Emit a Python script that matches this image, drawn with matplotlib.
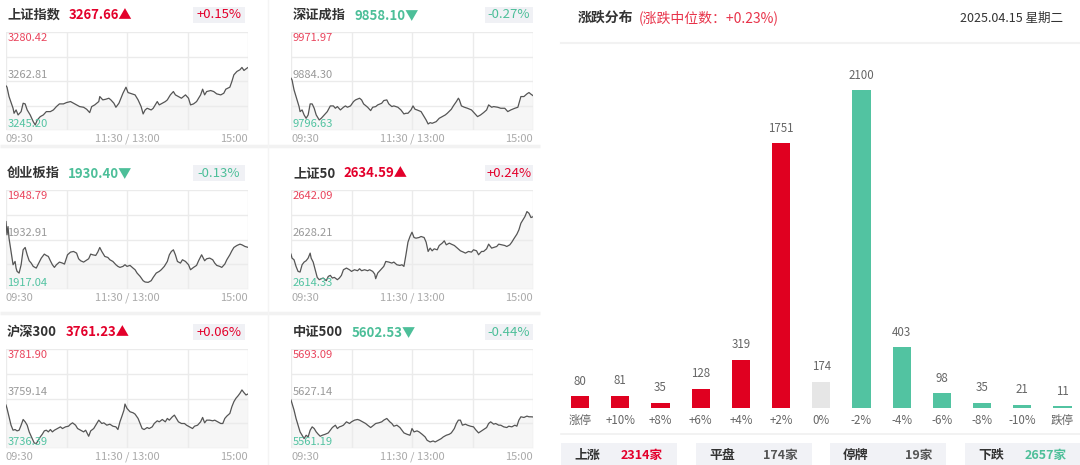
import numpy as np
import matplotlib
matplotlib.use('Agg')
import matplotlib.pyplot as plt
from matplotlib.patches import Rectangle

plt.rcParams['font.family'] = ['Noto Sans CJK SC', 'DejaVu Sans']

RED = '#e3002b'
GREEN = '#4dbf99'
DARK = '#333333'
GRAY = '#999999'

# ---- index panels ----
names = ['上证指数', '深证成指', '创业板指', '上证50', '沪深300', '中证500']
last = ['3267.66', '9858.10', '1930.40', '2634.59', '3761.23', '5602.53']
pct = ['+0.15%', '-0.27%', '-0.13%', '+0.24%', '+0.06%', '-0.44%']
hi = [3280.42, 9971.97, 1948.79, 2642.09, 3781.90, 5693.09]
mid = [3262.81, 9884.30, 1932.91, 2628.21, 3759.14, 5627.14]
lo = [3245.20, 9796.63, 1917.04, 2614.33, 3736.39, 5561.19]
time_labels = ['09:30', '11:30 / 13:00', '15:00']

# intraday (minute index, price)
sh_pts = [(0, 3261.07), (1, 3260.59), (3, 3257.22), (7, 3253.01), (8, 3251.21), (10, 3252.41),
          (12, 3250.61), (15, 3251.81), (17, 3254.82), (19, 3254.58), (21, 3252.41), (24, 3250.61),
          (27, 3248.21), (29, 3247.00), (31, 3248.81), (34, 3250.01), (37, 3250.61), (40, 3251.81),
          (44, 3251.81), (47, 3252.41), (50, 3253.62), (53, 3254.58), (57, 3254.58), (60, 3255.06),
          (64, 3255.42), (67, 3254.82), (70, 3254.22), (73, 3253.62), (77, 3253.37), (80, 3252.65),
          (83, 3251.45), (85, 3253.62), (88, 3254.22), (92, 3255.42), (93, 3257.22), (96, 3256.02),
          (99, 3256.26), (102, 3256.62), (104, 3256.02), (107, 3254.82), (109, 3253.37), (112, 3254.82),
          (114, 3256.62), (116, 3258.42), (119, 3260.59), (121, 3258.66), (125, 3258.18), (128, 3257.82),
          (131, 3256.02), (134, 3253.62), (136, 3250.97), (138, 3252.41), (140, 3253.01), (144, 3252.41),
          (146, 3253.01), (150, 3255.42), (152, 3254.22), (155, 3254.82), (158, 3255.42), (160, 3256.02),
          (163, 3257.82), (166, 3259.02), (168, 3257.82), (171, 3257.22), (174, 3256.62), (178, 3257.82),
          (181, 3256.62), (183, 3254.22), (186, 3254.58), (189, 3255.42), (193, 3257.82), (195, 3259.87),
          (197, 3257.82), (199, 3259.02), (203, 3259.38), (206, 3259.02), (209, 3258.18), (213, 3257.82),
          (216, 3258.42), (218, 3259.87), (222, 3260.59), (224, 3262.63), (226, 3265.03), (229, 3266.24),
          (232, 3266.84), (234, 3267.68), (236, 3266.60), (239, 3267.44), (240, 3267.66)]

sz_pts = [(0, 9889.39), (1, 9886.40), (3, 9868.45), (6, 9850.49), (8, 9838.53), (9, 9829.55),
          (11, 9832.54), (13, 9823.57), (15, 9817.58), (17, 9823.57), (19, 9843.31), (21, 9843.31),
          (23, 9835.53), (25, 9823.57), (28, 9814.59), (30, 9817.58), (33, 9823.57), (36, 9829.55),
          (39, 9839.72), (42, 9839.72), (44, 9835.53), (46, 9838.53), (49, 9832.54), (52, 9837.33),
          (54, 9839.72), (56, 9837.33), (59, 9839.72), (62, 9847.50), (64, 9850.49), (68, 9853.49),
          (70, 9850.49), (72, 9843.31), (76, 9837.33), (79, 9831.35), (81, 9837.33), (84, 9838.53),
          (86, 9841.52), (90, 9844.51), (92, 9849.30), (95, 9850.49), (97, 9843.31), (100, 9838.53),
          (102, 9839.72), (106, 9837.33), (109, 9832.54), (112, 9825.36), (114, 9826.56), (116, 9826.56),
          (119, 9832.54), (121, 9839.72), (123, 9833.74), (125, 9832.54), (129, 9829.55), (131, 9823.57),
          (134, 9814.59), (136, 9807.41), (138, 9809.80), (140, 9808.61), (144, 9811.60), (147, 9817.58),
          (150, 9820.57), (153, 9823.57), (155, 9826.56), (159, 9833.74), (161, 9839.72), (164, 9847.50),
          (166, 9853.49), (167, 9850.49), (169, 9839.72), (172, 9837.33), (175, 9835.53), (179, 9832.54),
          (182, 9826.56), (185, 9820.57), (188, 9823.57), (191, 9827.76), (194, 9832.54), (196, 9841.52),
          (199, 9837.33), (201, 9838.53), (205, 9837.33), (208, 9835.53), (212, 9835.53), (215, 9829.55),
          (218, 9832.54), (222, 9835.53), (225, 9837.33), (228, 9856.48), (231, 9856.48), (234, 9861.27),
          (236, 9863.66), (238, 9860.67), (240, 9858.10)]

cy_pts = [(0, 1938.67), (1, 1934.41), (2, 1937.07), (3, 1933.34), (5, 1929.08), (7, 1924.82),
          (9, 1925.88), (10, 1923.75), (11, 1922.69), (13, 1922.15), (15, 1924.82), (17, 1929.61),
          (19, 1930.36), (21, 1928.01), (23, 1926.10), (25, 1925.35), (27, 1924.29), (30, 1923.75),
          (32, 1925.03), (35, 1926.95), (38, 1928.23), (40, 1927.80), (42, 1927.48), (44, 1926.10),
          (46, 1924.82), (48, 1923.97), (50, 1924.82), (53, 1925.67), (56, 1925.35), (58, 1925.03),
          (61, 1928.01), (64, 1928.87), (67, 1929.08), (70, 1928.55), (72, 1926.74), (74, 1926.10),
          (77, 1925.67), (79, 1926.10), (82, 1926.74), (84, 1928.23), (86, 1928.01), (89, 1927.80),
          (91, 1928.87), (93, 1930.36), (95, 1929.08), (98, 1927.48), (101, 1927.16), (103, 1926.42),
          (106, 1925.88), (109, 1924.82), (111, 1924.29), (113, 1923.97), (116, 1924.29), (118, 1924.82),
          (120, 1924.29), (123, 1924.61), (126, 1923.75), (128, 1923.22), (130, 1922.15), (133, 1921.09),
          (136, 1919.70), (138, 1919.28), (141, 1919.17), (144, 1919.70), (146, 1920.77), (149, 1922.15),
          (152, 1922.69), (154, 1923.22), (157, 1924.29), (160, 1925.88), (162, 1928.01), (164, 1929.08),
          (166, 1929.61), (168, 1928.01), (170, 1925.88), (173, 1925.35), (175, 1926.42), (178, 1925.88),
          (181, 1924.82), (183, 1923.22), (186, 1923.97), (189, 1924.61), (191, 1926.10), (194, 1928.01),
          (197, 1926.10), (199, 1926.74), (202, 1926.95), (205, 1926.42), (207, 1925.35), (209, 1924.61),
          (212, 1924.29), (214, 1923.97), (217, 1925.03), (219, 1926.42), (222, 1928.01), (224, 1929.29),
          (226, 1930.36), (229, 1931.00), (232, 1931.42), (234, 1931.21), (237, 1930.68), (240, 1930.40)]

sz50_pts = [(0, 2624.11), (1, 2622.99), (3, 2622.53), (5, 2620.67), (7, 2619.27), (9, 2619.08),
            (11, 2621.13), (13, 2621.88), (15, 2622.25), (17, 2622.99), (19, 2624.39), (20, 2622.99),
            (22, 2621.88), (24, 2619.73), (26, 2617.59), (28, 2616.94), (30, 2617.22), (32, 2617.41),
            (35, 2616.66), (37, 2617.87), (39, 2618.15), (41, 2617.41), (43, 2617.59), (46, 2616.94),
            (48, 2617.41), (50, 2618.15), (52, 2619.73), (55, 2620.20), (58, 2619.73), (60, 2619.27),
            (63, 2619.73), (66, 2619.45), (68, 2620.01), (70, 2619.45), (73, 2619.73), (76, 2619.45),
            (78, 2619.73), (81, 2619.27), (83, 2618.52), (84, 2617.22), (86, 2618.80), (89, 2619.73),
            (92, 2620.67), (94, 2622.06), (97, 2621.88), (100, 2621.60), (102, 2621.88), (105, 2621.13),
            (108, 2620.94), (110, 2621.13), (112, 2620.67), (114, 2623.93), (116, 2627.47), (118, 2629.05),
            (120, 2630.26), (122, 2628.77), (124, 2628.58), (127, 2628.77), (129, 2629.05), (132, 2628.77),
            (134, 2627.47), (136, 2624.86), (138, 2625.79), (140, 2625.04), (142, 2625.60), (145, 2625.32),
            (147, 2626.53), (150, 2627.19), (152, 2627.84), (154, 2626.72), (157, 2627.19), (159, 2626.91),
            (162, 2626.53), (165, 2625.79), (168, 2625.04), (171, 2624.67), (173, 2624.39), (176, 2624.86),
            (179, 2624.67), (181, 2625.32), (184, 2625.04), (186, 2623.93), (189, 2624.86), (191, 2624.86),
            (194, 2625.60), (196, 2626.91), (199, 2625.79), (201, 2625.98), (204, 2626.25), (206, 2626.91),
            (209, 2626.72), (212, 2626.53), (214, 2626.25), (217, 2626.72), (219, 2627.47), (221, 2628.40),
            (224, 2629.70), (226, 2630.91), (228, 2632.77), (230, 2633.71), (232, 2634.64), (234, 2636.04),
            (236, 2635.57), (238, 2634.36), (240, 2634.59)]

hs300_pts = [(0, 3756.14), (1, 3754.59), (3, 3750.74), (5, 3746.88), (7, 3744.57), (9, 3744.88),
             (11, 3744.26), (13, 3744.57), (15, 3746.88), (17, 3749.50), (19, 3748.42), (21, 3746.88),
             (23, 3743.80), (26, 3740.71), (28, 3738.70), (30, 3738.40), (32, 3739.94), (34, 3741.48),
             (36, 3742.72), (38, 3744.26), (40, 3744.57), (42, 3743.80), (44, 3744.88), (46, 3743.80),
             (48, 3744.57), (51, 3745.34), (54, 3746.11), (56, 3745.34), (59, 3746.11), (62, 3746.42),
             (64, 3747.34), (66, 3747.96), (69, 3746.88), (71, 3745.34), (74, 3744.57), (77, 3743.80),
             (79, 3744.57), (82, 3741.79), (84, 3744.26), (87, 3745.34), (89, 3746.88), (92, 3749.19),
             (95, 3747.65), (97, 3747.96), (100, 3746.88), (103, 3747.34), (106, 3746.42), (109, 3746.11),
             (111, 3744.88), (113, 3748.42), (115, 3751.05), (117, 3753.82), (118, 3756.60), (120, 3754.59),
             (123, 3753.05), (126, 3752.59), (128, 3751.97), (131, 3749.97), (133, 3747.65), (135, 3745.34),
             (137, 3744.88), (140, 3745.80), (142, 3745.34), (145, 3746.11), (147, 3747.65), (150, 3748.89),
             (152, 3748.42), (155, 3749.50), (158, 3748.42), (160, 3749.97), (162, 3749.19), (165, 3750.74),
             (167, 3751.51), (169, 3749.97), (171, 3748.42), (174, 3747.65), (177, 3747.65), (179, 3746.88),
             (182, 3746.11), (185, 3745.34), (187, 3746.42), (190, 3746.88), (193, 3748.42), (195, 3750.43),
             (197, 3747.96), (199, 3749.19), (202, 3749.19), (205, 3748.89), (207, 3749.19), (210, 3748.42),
             (213, 3747.65), (215, 3747.65), (217, 3749.97), (219, 3751.05), (222, 3752.28), (224, 3755.37),
             (226, 3757.68), (228, 3759.22), (230, 3760.30), (232, 3761.54), (234, 3763.08), (236, 3761.84),
             (238, 3760.76), (240, 3761.23)]

zz500_pts = [(0, 5625.13), (1, 5620.66), (3, 5611.71), (5, 5600.54), (7, 5591.59), (9, 5582.65),
             (11, 5578.18), (13, 5573.71), (15, 5578.18), (17, 5575.94), (19, 5584.89), (21, 5589.36),
             (23, 5587.12), (25, 5582.65), (27, 5579.52), (29, 5576.84), (31, 5578.18), (34, 5579.52),
             (37, 5581.31), (39, 5584.89), (41, 5588.46), (44, 5591.59), (46, 5587.12), (48, 5589.36),
             (50, 5590.25), (52, 5591.59), (55, 5596.06), (58, 5593.83), (60, 5596.06), (63, 5598.30),
             (66, 5599.19), (68, 5598.30), (71, 5596.06), (74, 5593.83), (76, 5591.59), (79, 5588.46),
             (82, 5591.59), (84, 5593.83), (87, 5594.72), (90, 5596.06), (92, 5598.30), (95, 5600.54),
             (98, 5596.06), (100, 5593.83), (102, 5590.25), (105, 5591.59), (108, 5588.46), (110, 5584.89),
             (112, 5581.31), (115, 5579.52), (118, 5578.18), (120, 5587.12), (122, 5582.65), (125, 5583.99),
             (127, 5582.65), (130, 5579.52), (133, 5575.94), (135, 5571.47), (138, 5569.24), (141, 5570.58),
             (143, 5569.24), (146, 5571.47), (149, 5573.71), (151, 5575.94), (154, 5578.18), (157, 5579.52),
             (159, 5581.31), (162, 5587.12), (164, 5593.83), (166, 5598.30), (168, 5598.30), (170, 5591.59),
             (173, 5592.94), (175, 5591.59), (178, 5590.25), (181, 5589.36), (183, 5585.78), (186, 5581.31),
             (189, 5583.99), (191, 5585.78), (194, 5588.46), (196, 5593.83), (198, 5596.06), (201, 5592.94),
             (203, 5593.83), (206, 5591.59), (208, 5591.59), (211, 5589.36), (214, 5588.46), (216, 5590.25),
             (219, 5589.36), (222, 5591.59), (224, 5590.25), (226, 5598.30), (228, 5602.77), (231, 5601.88),
             (234, 5603.67), (236, 5602.77), (238, 5602.77), (240, 5602.53)]

series = [sh_pts, sz_pts, cy_pts, sz50_pts, hs300_pts, zz500_pts]

# ---- up/down distribution ----
bins = ['涨停', '+10%', '+8%', '+6%', '+4%', '+2%', '0%', '-2%', '-4%', '-6%', '-8%', '-10%', '跌停']
counts = [80, 81, 35, 128, 319, 1751, 174, 2100, 403, 98, 35, 21, 11]
summary_labels = ['上涨', '平盘', '停牌', '下跌']
summary_values = ['2314家', '174家', '19家', '2657家']
median_text = '(涨跌中位数：+0.23%)'
date_text = '2025.04.15 星期二'

W, H = 1080, 465
fig = plt.figure(figsize=(W / 100, H / 100), dpi=100)
fig.patch.set_facecolor('white')

bg = fig.add_axes([0, 0, 1, 1], zorder=0)
bg.set_xlim(0, W)
bg.set_ylim(H, 0)
bg.axis('off')


def add_ax(x0, y0, x1, y1):
    return fig.add_axes([x0 / W, 1 - y1 / H, (x1 - x0) / W, (y1 - y0) / H], zorder=1)


# separators of the left block
for yy in [146, 313]:
    bg.plot([0, 540], [yy, yy], color='#f2f2f2', lw=2.5, solid_capstyle='butt')
bg.plot([268, 268], [0, H], color='#f4f4f4', lw=1)

col_x = [(6, 248), (291, 533)]
row_y = [(32, 130), (190, 289), (349, 448)]
title_y = [15, 173, 332]
tlabel_y = [139, 298, 457]
box_x = [(193, 245), (485, 533)]
name_x = [7, 293]

for k in range(6):
    r, c = k // 2, k % 2
    x0, x1 = col_x[c]
    y0, y1 = row_y[r]
    up = pct[k].startswith('+')
    col = RED if up else GREEN

    # title row
    nt = bg.text(name_x[c], title_y[r], names[k], fontsize=9.5, fontweight='bold',
                 color=DARK, va='center', ha='left')
    bg.annotate(last[k] + ('▲' if up else '▼'), xy=(1, 0.5), xycoords=nt,
                xytext=(6, 0), textcoords='offset points', va='center', ha='left',
                fontsize=9.5, fontweight='bold', color=col)
    bx0, bx1 = box_x[c]
    bg.add_patch(Rectangle((bx0, title_y[r] - 8), bx1 - bx0, 16, fc='#f0f1f5', ec='none'))
    bg.text((bx0 + bx1) / 2, title_y[r], pct[k], fontsize=9.5, color=col, ha='center', va='center')

    # intraday line
    ax = add_ax(x0, y0, x1, y1)
    ax.set_facecolor('none')
    t, v = zip(*series[k])
    ax.fill_between(t, v, lo[k], color='#f6f6f6', lw=0, zorder=0.2)
    ax.plot(t, v, color='#555555', lw=0.9, zorder=2)
    ax.set_xlim(0, 240)
    ax.set_ylim(lo[k], hi[k])
    ax.set_xticks([0, 60, 120, 180, 240])
    ax.set_yticks(np.linspace(lo[k], hi[k], 5))
    ax.grid(color='#ebebeb', lw=1)
    ax.set_axisbelow(True)
    ax.tick_params(length=0, labelbottom=False, labelleft=False)
    for s in ax.spines.values():
        s.set_visible(False)

    ytr = ('axes fraction', 'data')
    ax.annotate(f'{hi[k]:.2f}', xy=(0, hi[k]), xycoords=ytr, xytext=(1, -1),
                textcoords='offset points', va='top', ha='left', fontsize=8, color='#e9455d', zorder=3)
    ax.annotate(f'{mid[k]:.2f}', xy=(0, mid[k]), xycoords=ytr, xytext=(1, 1),
                textcoords='offset points', va='bottom', ha='left', fontsize=8, color=GRAY, zorder=3)
    ax.annotate(f'{lo[k]:.2f}', xy=(0, lo[k]), xycoords=ytr, xytext=(1, 1),
                textcoords='offset points', va='bottom', ha='left', fontsize=8, color='#52c3a1', zorder=3)

    bg.text(x0, tlabel_y[r], time_labels[0], ha='left', va='center', fontsize=8, color='#aaaaaa')
    bg.text((x0 + x1) / 2, tlabel_y[r], time_labels[1], ha='center', va='center', fontsize=8, color='#aaaaaa')
    bg.text(x1, tlabel_y[r], time_labels[2], ha='right', va='center', fontsize=8, color='#aaaaaa')

# ---- right block ----
tt = bg.text(578, 18, '涨跌分布', fontsize=10, fontweight='bold', color=DARK, va='center', ha='left')
bg.annotate(median_text, xy=(1, 0.5), xycoords=tt, xytext=(4, 0), textcoords='offset points',
            va='center', ha='left', fontsize=10, color='#e8334a')
bg.text(1063, 18, date_text, fontsize=9, color=DARK, va='center', ha='right')
bg.plot([561, W], [43, 43], color='#f2f2f2', lw=1.5)
bg.plot([561, W], [434, 434], color='#f0f0f0', lw=1.2)

bar_colors = []
for b in bins:
    if b == '0%':
        bar_colors.append('#e6e6e6')
    elif b.startswith('+') or b == '涨停':
        bar_colors.append('#e00020')
    else:
        bar_colors.append('#52c3a1')

bax = add_ax(560, 60, W, 408)
bax.set_facecolor('none')
xs = np.arange(len(bins))
bax.bar(xs, counts, width=0.45, color=bar_colors)
bax.set_xlim(-0.5, -0.5 + 520 / 40.2)
bax.set_ylim(0, 348 / 0.1514)
bax.set_xticks(xs, bins)
bax.set_yticks([])
bax.tick_params(length=0, pad=4.5, labelsize=8.3, labelcolor='#666666')
for s in bax.spines.values():
    s.set_visible(False)
for xi, n in zip(xs, counts):
    bax.annotate(str(n), (xi, n), xytext=(0, 6), textcoords='offset points',
                 ha='center', va='bottom', fontsize=8.3, color='#666666')

val_colors = [RED, '#555555', '#555555', GREEN]
for i, bx in enumerate([561, 696, 830, 965]):
    bg.add_patch(Rectangle((bx, 443), 116, 24, fc='#f1f2f6', ec='none'))
    bg.text(bx + 13, 455, summary_labels[i], fontsize=9.3, fontweight='bold', color=DARK,
            ha='left', va='center')
    bg.text(bx + 102, 455, summary_values[i], fontsize=9, fontweight='bold',
            color=val_colors[i], ha='right', va='center')

fig.savefig('out.png', dpi=100, facecolor='white')
